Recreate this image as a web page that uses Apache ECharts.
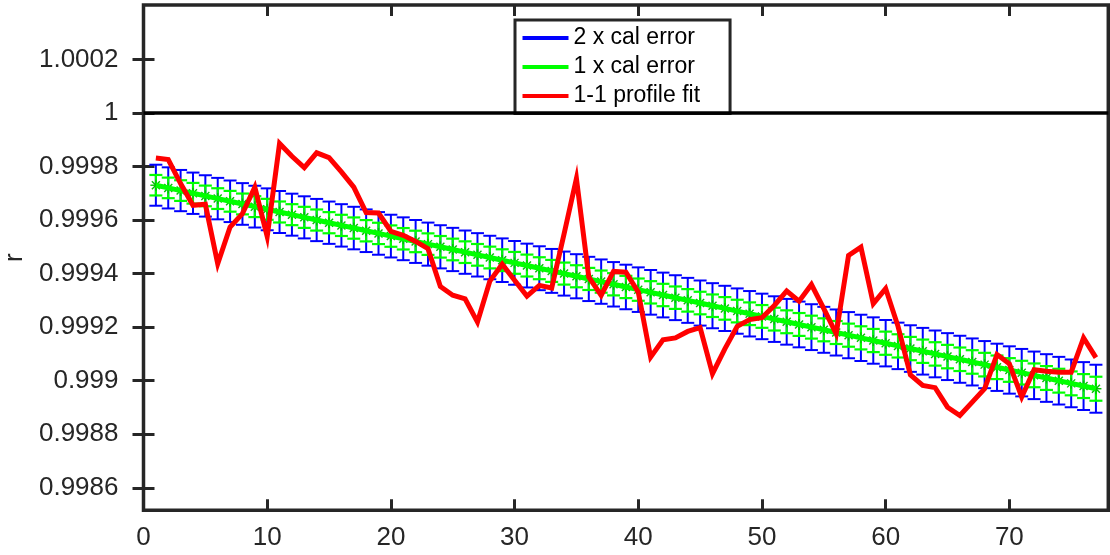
<!DOCTYPE html>
<html>
<head>
<meta charset="utf-8">
<title>r vs index</title>
<script src="https://cdn.jsdelivr.net/npm/echarts@6/dist/echarts.min.js"></script>
<style>
  html, body { margin: 0; padding: 0; background: #fff; }
  #chart { width: 1110px; height: 555px; }
</style>
</head>
<body>
<div id="chart"></div>
<script>
// Sample index along the x axis
const idx = [
  1, 2, 3, 4, 5, 6, 7, 8, 9, 10, 11, 12, 13, 14, 15, 16, 17, 18, 19, 20,
  21, 22, 23, 24, 25, 26, 27, 28, 29, 30, 31, 32, 33, 34, 35, 36, 37, 38, 39, 40,
  41, 42, 43, 44, 45, 46, 47, 48, 49, 50, 51, 52, 53, 54, 55, 56, 57, 58, 59, 60,
  61, 62, 63, 64, 65, 66, 67, 68, 69, 70, 71, 72, 73, 74, 75, 76, 77
];

// Calibration curve value of r
const calR = [
  0.999730, 0.999720, 0.999710, 0.999700, 0.999690, 0.999680, 0.999670, 0.999660, 0.999650, 0.999640,
  0.999630, 0.999620, 0.999610, 0.999600, 0.999590, 0.999580, 0.999570, 0.999560, 0.999550, 0.999540,
  0.999530, 0.999520, 0.999510, 0.999500, 0.999490, 0.999480, 0.999470, 0.999460, 0.999450, 0.999440,
  0.999430, 0.999420, 0.999410, 0.999400, 0.999390, 0.999380, 0.999370, 0.999360, 0.999350, 0.999340,
  0.999330, 0.999320, 0.999310, 0.999300, 0.999290, 0.999280, 0.999270, 0.999260, 0.999250, 0.999240,
  0.999230, 0.999220, 0.999210, 0.999200, 0.999190, 0.999180, 0.999170, 0.999160, 0.999150, 0.999140,
  0.999130, 0.999120, 0.999110, 0.999100, 0.999090, 0.999080, 0.999070, 0.999060, 0.999050, 0.999040,
  0.999030, 0.999020, 0.999010, 0.999000, 0.998990, 0.998980, 0.998970
];

// One calibration error, in parts per million
const calErrPpm = [
  38.3, 38.4, 38.5, 38.6, 38.6, 38.7, 38.8, 38.9, 39.0, 39.1,
  39.2, 39.2, 39.3, 39.4, 39.5, 39.6, 39.7, 39.8, 39.8, 39.9,
  40.0, 40.1, 40.2, 40.3, 40.4, 40.4, 40.5, 40.6, 40.7, 40.8,
  40.9, 41.0, 41.0, 41.1, 41.2, 41.3, 41.4, 41.5, 41.6, 41.6,
  41.7, 41.8, 41.9, 42.0, 42.1, 42.1, 42.2, 42.3, 42.4, 42.5,
  42.6, 42.7, 42.7, 42.8, 42.9, 43.0, 43.1, 43.2, 43.3, 43.3,
  43.4, 43.5, 43.6, 43.7, 43.8, 43.9, 43.9, 44.0, 44.1, 44.2,
  44.3, 44.4, 44.5, 44.5, 44.6, 44.7, 44.8
];

// r from the 1-1 profile fit
const fitR = [
  0.999832, 0.999826, 0.999736, 0.999655, 0.999659, 0.999437, 0.999574, 0.999624, 0.999723, 0.999539,
  0.999886, 0.999838, 0.999796, 0.999851, 0.999833, 0.999780, 0.999723, 0.999628, 0.999626, 0.999558,
  0.999543, 0.999520, 0.999493, 0.999352, 0.999319, 0.999306, 0.999219, 0.999372, 0.999435, 0.999375,
  0.999316, 0.999356, 0.999346, 0.999548, 0.999755, 0.999387, 0.999319, 0.999408, 0.999405, 0.999331,
  0.999088, 0.999153, 0.999160, 0.999184, 0.999198, 0.999026, 0.999119, 0.999203, 0.999228, 0.999235,
  0.999281, 0.999335, 0.999297, 0.999359, 0.999269, 0.999175, 0.999468, 0.999499, 0.999288, 0.999344,
  0.999203, 0.999022, 0.998982, 0.998974, 0.998901, 0.998870, 0.998920, 0.998970, 0.999098, 0.999063,
  0.998939, 0.999041, 0.999035, 0.999032, 0.999032, 0.999160, 0.999086
];

// Tick positions
const xTicks = [0, 10, 20, 30, 40, 50, 60, 70];
const yTicks = [0.9986, 0.9988, 0.999, 0.9992, 0.9994, 0.9996, 0.9998, 1, 1.0002];

const FONT = '"Liberation Sans", Arial, Helvetica, sans-serif';
const AXIS = '#262626';
const BLUE = '#0000ff';
const GREEN = '#00ff00';
const RED = '#ff0000';

const oneSigma = idx.map((x, i) => [x, calR[i], calErrPpm[i] * 1e-6]);
const twoSigma = idx.map((x, i) => [x, calR[i], 2 * calErrPpm[i] * 1e-6]);
const fitLine = idx.map((x, i) => [x, fitR[i]]);
const calLine = idx.map((x, i) => [x, calR[i]]);

// Vertical error bar with caps at both ends, optionally with a '*' marker at the centre
function errorBar(color, capHalf, width, withStar) {
  return function (params, api) {
    const x = api.value(0), y = api.value(1), e = api.value(2);
    const top = api.coord([x, y + e]);
    const bot = api.coord([x, y - e]);
    const style = { stroke: color, lineWidth: width };
    const kids = [
      { type: 'line', shape: { x1: top[0], y1: top[1], x2: bot[0], y2: bot[1] }, style },
      { type: 'line', shape: { x1: top[0] - capHalf, y1: top[1], x2: top[0] + capHalf, y2: top[1] }, style },
      { type: 'line', shape: { x1: bot[0] - capHalf, y1: bot[1], x2: bot[0] + capHalf, y2: bot[1] }, style }
    ];
    if (withStar) {
      const c = api.coord([x, y]);
      const s = { stroke: '#00c000', lineWidth: 1.4 };
      const r = 5.5, d = 4;
      kids.push(
        { type: 'line', shape: { x1: c[0] - r, y1: c[1], x2: c[0] + r, y2: c[1] }, style: s },
        { type: 'line', shape: { x1: c[0], y1: c[1] - r, x2: c[0], y2: c[1] + r }, style: s },
        { type: 'line', shape: { x1: c[0] - d, y1: c[1] - d, x2: c[0] + d, y2: c[1] + d }, style: s },
        { type: 'line', shape: { x1: c[0] - d, y1: c[1] + d, x2: c[0] + d, y2: c[1] - d }, style: s }
      );
    }
    return { type: 'group', children: kids };
  };
}

const tickFmt = v => String(Number(Number(v).toFixed(4)));

const chart = echarts.init(document.getElementById('chart'), null, { renderer: 'canvas' });

const baseX = {
  type: 'value', min: 0, max: 78,
  axisLine: { show: false },
  splitLine: { show: false },
  axisTick: { show: true, inside: true, length: 11, customValues: xTicks, lineStyle: { color: AXIS, width: 3 } }
};
const baseY = {
  type: 'value', min: 0.998516, max: 1.000403,
  axisLine: { show: false },
  splitLine: { show: false },
  axisTick: { show: true, inside: true, length: 11, customValues: yTicks, lineStyle: { color: AXIS, width: 3 } }
};

chart.setOption({
  animation: false,
  backgroundColor: '#ffffff',
  textStyle: { fontFamily: FONT },
  grid: {
    left: 143.5, right: 1.7, top: 5, bottom: 44.7,
    containLabel: false,
    outerBoundsMode: 'none',
    show: true, borderColor: AXIS, borderWidth: 3.5, backgroundColor: 'transparent'
  },
  legend: {
    orient: 'vertical',
    left: 515, top: 20,
    padding: [6.5, 30, 6, 7.5],
    itemGap: 6,
    itemWidth: 46, itemHeight: 4,
    backgroundColor: '#ffffff',
    borderColor: AXIS, borderWidth: 3, borderRadius: 0,
    selectedMode: false,
    textStyle: { fontFamily: FONT, fontSize: 23, lineHeight: 23, color: '#000000' },
    data: [
      { name: '2 x cal error', icon: 'rect', itemStyle: { color: BLUE } },
      { name: '1 x cal error', icon: 'rect', itemStyle: { color: GREEN } },
      { name: '1-1 profile fit', icon: 'rect', itemStyle: { color: RED } }
    ]
  },
  xAxis: [
    Object.assign({}, baseX, {
      position: 'bottom',
      axisLabel: {
        show: true, customValues: xTicks, margin: 15,
        fontSize: 26, color: AXIS, fontFamily: FONT
      }
    }),
    Object.assign({}, baseX, { position: 'top', axisLabel: { show: false } })
  ],
  yAxis: [
    Object.assign({}, baseY, {
      position: 'left',
      name: 'r', nameLocation: 'middle', nameGap: 112,
      nameTextStyle: { fontSize: 26, color: AXIS, fontFamily: FONT },
      axisLabel: {
        show: true, customValues: yTicks, margin: 25, formatter: tickFmt,
        fontSize: 26, color: AXIS, fontFamily: FONT
      }
    }),
    Object.assign({}, baseY, { position: 'right', axisLabel: { show: false } })
  ],
  series: [
    {
      name: '2 x cal error',
      type: 'custom',
      xAxisIndex: 0, yAxisIndex: 0,
      itemStyle: { color: BLUE },
      encode: { x: 0, y: 1 },
      renderItem: errorBar(BLUE, 6.5, 2, false),
      data: twoSigma,
      z: 2
    },
    {
      name: '1 x cal error',
      type: 'custom',
      xAxisIndex: 0, yAxisIndex: 0,
      itemStyle: { color: GREEN },
      encode: { x: 0, y: 1 },
      renderItem: errorBar(GREEN, 6.5, 2.2, true),
      data: oneSigma,
      z: 3
    },
    {
      name: '1 x cal error',
      type: 'line',
      xAxisIndex: 0, yAxisIndex: 0,
      data: calLine,
      symbol: 'none',
      lineStyle: { color: GREEN, width: 5 },
      itemStyle: { color: GREEN },
      z: 4
    },
    {
      name: '1-1 profile fit',
      type: 'line',
      xAxisIndex: 0, yAxisIndex: 0,
      data: fitLine,
      symbol: 'none',
      lineStyle: { color: RED, width: 5, join: 'miter' },
      itemStyle: { color: RED },
      z: 5,
      markLine: {
        silent: true,
        symbol: 'none',
        label: { show: false },
        lineStyle: { color: '#000000', width: 3.5, type: 'solid' },
        data: [{ yAxis: 1 }]
      }
    }
  ]
});
</script>
</body>
</html>
